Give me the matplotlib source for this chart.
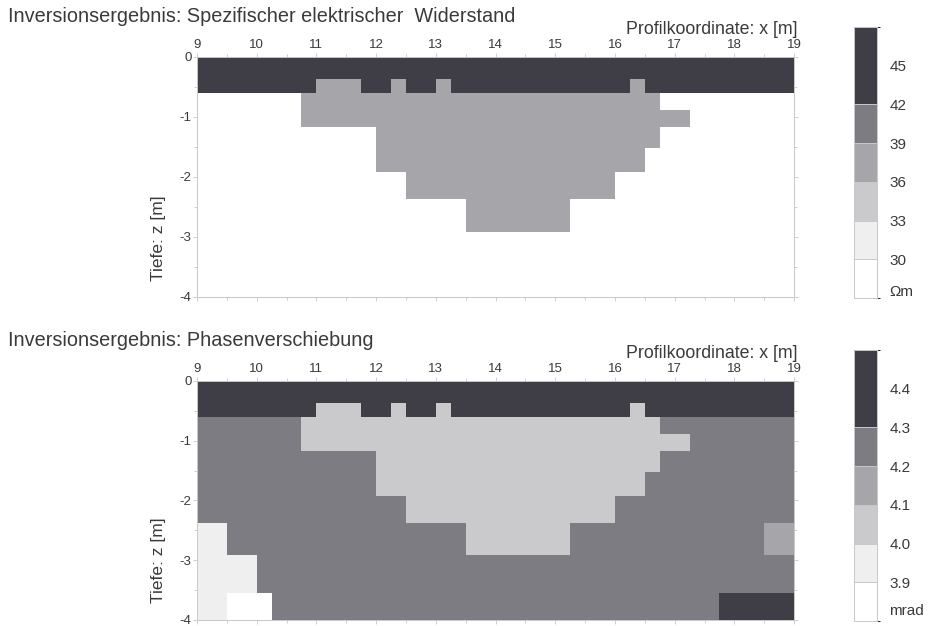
import numpy as np
import matplotlib
matplotlib.use("Agg")
from matplotlib import pyplot as plt
from matplotlib.colors import ListedColormap, BoundaryNorm

plt.rcParams["font.family"] = ["Liberation Sans", "DejaVu Sans"]
plt.rcParams["axes.unicode_minus"] = False

# model grid: 0.25 m columns from 9 to 19 m, layer edges in depth
X_EDGES = np.arange(9.0, 19.0001, 0.25)
Z_EDGES = [0.0, -0.37, -0.6, -0.88, -1.17, -1.52, -1.92, -2.37, -2.92, -3.55, -4.0]

# resistivity classes (Ohm m), one char per cell
RHO_CODES = {".": 28.5, "B": 37.5, "D": 45.0}
RHO_ROWS = [
    "DDDDDDDDDD" "DDDDDDDDDD" "DDDDDDDDDD" "DDDDDDDDDD",
    "DDDDDDDD" "BBB" "DD" "B" "DD" "B" "DDDDDDDDDDDD" "B" "DDDDDDDDDD",
    "......." "BBBBBBBBBBBBBBBBBBBBBBBB" ".........",
    "......." "BBBBBBBBBBBBBBBBBBBBBBBBBB" ".......",
    "............" "BBBBBBBBBBBBBBBBBBB" ".........",
    "............" "BBBBBBBBBBBBBBBBBB" "..........",
    ".............." "BBBBBBBBBBBBBB" "............",
    ".................." "BBBBBBB" "...............",
    "........................................",
    "........................................",
]
RHO_BOUNDS = [27, 30, 33, 36, 39, 42, 48]
RHO_TICKS = [30, 33, 36, 39, 42, 45]

# phase classes (mrad)
PHI_CODES = {"w": 3.85, "v": 3.95, "B": 4.05, "m": 4.15, "g": 4.25, "D": 4.4}
PHI_ROWS = [
    "DDDDDDDDDD" "DDDDDDDDDD" "DDDDDDDDDD" "DDDDDDDDDD",
    "DDDDDDDD" "BBB" "DD" "B" "DD" "B" "DDDDDDDDDDDD" "B" "DDDDDDDDDD",
    "ggggggg" "BBBBBBBBBBBBBBBBBBBBBBBB" "ggggggggg",
    "ggggggg" "BBBBBBBBBBBBBBBBBBBBBBBBBB" "ggggggg",
    "gggggggggggg" "BBBBBBBBBBBBBBBBBBB" "ggggggggg",
    "gggggggggggg" "BBBBBBBBBBBBBBBBBB" "gggggggggg",
    "gggggggggggggg" "BBBBBBBBBBBBBB" "gggggggggggg",
    "vv" "gggggggggggggggg" "BBBBBBB" "ggggggggggggg" "mm",
    "vvvv" "gggggggggggggggggggggggggggggggggggg",
    "vv" "www" "gggggggggggggggggggggggggggggg" "DDDDD",
]
PHI_BOUNDS = [3.8, 3.9, 4.0, 4.1, 4.2, 4.3, 4.5]
PHI_TICKS = [3.9, 4.0, 4.1, 4.2, 4.3, 4.4]

GREYS = ["#ffffff", "#efeff0", "#cacacd", "#a6a6aa", "#7d7c83", "#3f3e46"]
TXT = "#3a3a3a"
EDGE = "#c8c8c8"


def to_grid(rows, codes):
    for r in rows:
        assert len(r) == 40, (len(r), r)
    return np.array([[codes[c] for c in r] for r in rows])


def section(fig, rect, rows, codes, bounds):
    ax = fig.add_axes(rect)
    cmap = ListedColormap(GREYS)
    norm = BoundaryNorm(bounds, cmap.N)
    mesh = ax.pcolormesh(X_EDGES, Z_EDGES, to_grid(rows, codes), cmap=cmap, norm=norm)
    ax.set_xlim(9, 19)
    ax.set_ylim(-4, 0)
    ax.set_xticks(range(9, 20))
    ax.set_xticks(np.arange(9.5, 19, 1), minor=True)
    ax.set_yticks([0, -1, -2, -3, -4])
    ax.set_yticks([-0.5, -1.5, -2.5, -3.5], minor=True)
    ax.xaxis.tick_top()
    ax.tick_params(which="both", top=True, bottom=True, left=True, right=True,
                   direction="out", length=3, width=0.6, color=EDGE,
                   labelsize=9.5, labelcolor=TXT, pad=1)
    ax.tick_params(which="minor", length=2)
    for s in ax.spines.values():
        s.set_color(EDGE)
        s.set_linewidth(0.7)
    return ax, mesh


def legend_bar(fig, rect, mesh, bounds, ticks, unit, unit_pos, fmt):
    cax = fig.add_axes(rect)
    cb = fig.colorbar(mesh, cax=cax, boundaries=bounds, spacing="proportional",
                      drawedges=True)
    cb.outline.set_edgecolor(EDGE)
    cb.outline.set_linewidth(0.7)
    cb.dividers.set_color(EDGE)
    cb.dividers.set_linewidth(0.7)
    cb.set_ticks([unit_pos] + ticks, labels=[unit] + [fmt.format(t) for t in ticks])
    cax.tick_params(length=0, labelsize=11, labelcolor=TXT, pad=9)
    return cb


def main():
    fig = plt.figure(figsize=(9.33, 6.26), dpi=100)

    ax1, m1 = section(fig, [0.2111, 0.5256, 0.640, 0.3834], RHO_ROWS, RHO_CODES, RHO_BOUNDS)
    legend_bar(fig, [0.9153, 0.524, 0.0247, 0.433], m1, RHO_BOUNDS, RHO_TICKS,
               "\u03a9m", 27.55, "{:d}")

    ax2, m2 = section(fig, [0.2111, 0.0096, 0.640, 0.3818], PHI_ROWS, PHI_CODES, PHI_BOUNDS)
    legend_bar(fig, [0.9153, 0.0080, 0.0247, 0.4330], m2, PHI_BOUNDS, PHI_TICKS,
               "mrad", 3.83, "{:.1f}")

    fig.text(8 / 933, 1 - 16 / 626, "Inversionsergebnis: Spezifischer elektrischer  Widerstand",
             fontsize=14.3, color=TXT, va="center", ha="left")
    fig.text(8 / 933, 1 - 341 / 626, "Inversionsergebnis: Phasenverschiebung",
             fontsize=14.3, color=TXT, va="center", ha="left")
    for y in (30, 353):
        fig.text(797 / 933, 1 - y / 626, "Profilkoordinate: x [m]",
                 fontsize=12.8, color=TXT, va="center", ha="right")
    for y in (238, 560):
        fig.text(158 / 933, 1 - y / 626, "Tiefe: z [m]", rotation=90,
                 fontsize=12.5, color=TXT, va="center", ha="center")

    fig.savefig("out.png", dpi=100)


if __name__ == "__main__":
    main()
